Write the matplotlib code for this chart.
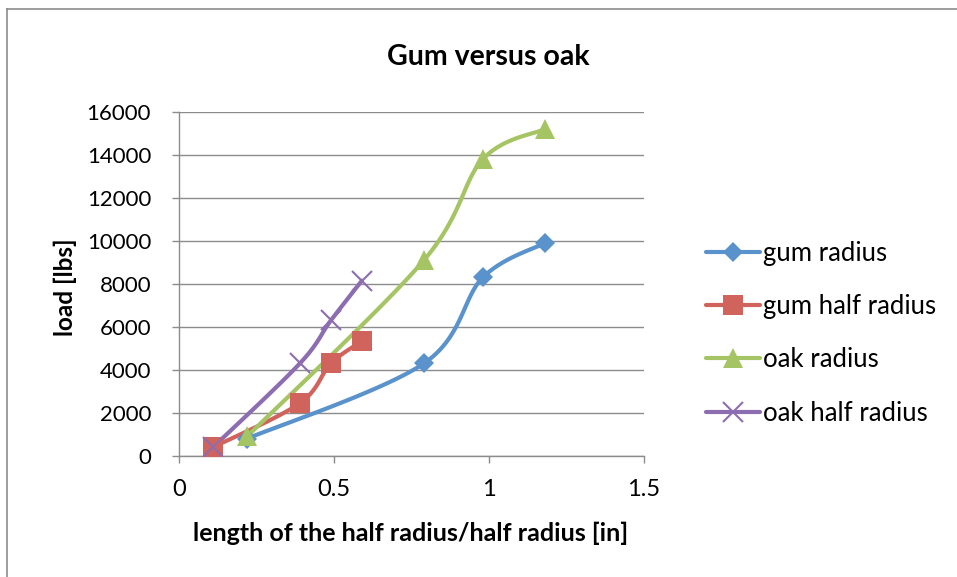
import matplotlib.pyplot as plt
import numpy as np

# --- data ---
gum_radius_x = [0.22, 0.79, 0.98, 1.18]
gum_radius_y = [800, 4300, 8300, 9900]

gum_half_x = [0.11, 0.39, 0.49, 0.59]
gum_half_y = [400, 2450, 4300, 5330]

oak_radius_x = [0.22, 0.79, 0.98, 1.18]
oak_radius_y = [900, 9100, 13800, 15200]

oak_half_x = [0.11, 0.39, 0.49, 0.59]
oak_half_y = [400, 4300, 6300, 8150]

labels = ['gum radius', 'gum half radius', 'oak radius', 'oak half radius']
colors = ['#5A93CC', '#D0635C', '#A5C565', '#8C6DB0']
markers = ['D', 's', '^', 'x']
msizes = [10.5, 14, 15, 14]

plt.rcParams['font.family'] = ['Lato', 'DejaVu Sans']


def smooth(x, y, n=40):
    # Catmull-Rom style smoothing like Excel's "smoothed line"
    x = np.asarray(x, float)
    y = np.asarray(y, float)
    p = np.column_stack([x, y])
    out = [p[0]]
    for i in range(len(p) - 1):
        p0 = p[i - 1] if i > 0 else p[i]
        p1 = p[i]
        p2 = p[i + 1]
        p3 = p[i + 2] if i + 2 < len(p) else p[i + 1]
        c1 = p1 + (p2 - p0) / 6
        c2 = p2 - (p3 - p1) / 6
        t = np.linspace(0, 1, n)[1:, None]
        seg = ((1 - t) ** 3) * p1 + 3 * ((1 - t) ** 2) * t * c1 + 3 * (1 - t) * t ** 2 * c2 + t ** 3 * p2
        out.extend(seg)
    out = np.array(out)
    return out[:, 0], out[:, 1]


fig = plt.figure(figsize=(9.57, 5.77), dpi=100)
ax = fig.add_axes([0.187, 0.21, 0.486, 0.596])

series = [(gum_radius_x, gum_radius_y), (gum_half_x, gum_half_y),
          (oak_radius_x, oak_radius_y), (oak_half_x, oak_half_y)]

handles = []
for (xs, ys), lab, c, m, ms in zip(series, labels, colors, markers, msizes):
    sx, sy = smooth(xs, ys)
    ax.plot(sx, sy, color=c, lw=3, solid_capstyle='round', zorder=3)
    mew = 1.5 if m == 'x' else 0
    ax.plot(xs, ys, linestyle='none', marker=m, ms=ms, color=c, mec=c, mew=mew, zorder=4)
    h, = ax.plot([], [], color=c, lw=3, marker=m, ms=ms, mec=c, mew=mew, solid_capstyle='round')
    handles.append(h)

ax.set_xlim(0, 1.5)
ax.set_ylim(0, 16000)
ax.set_xticks([0, 0.5, 1, 1.5])
ax.set_xticklabels(['0', '0.5', '1', '1.5'])
ax.set_yticks(np.arange(0, 16001, 2000))

ax.grid(axis='y', color='#8C8C8C', lw=1)
ax.set_axisbelow(True)
for s in ['top', 'right']:
    ax.spines[s].set_visible(False)
for s in ['left', 'bottom']:
    ax.spines[s].set_color('#8C8C8C')
    ax.spines[s].set_linewidth(1)
ax.tick_params(axis='both', colors='#8C8C8C', length=5, width=1, labelcolor='black')
ax.tick_params(axis='x', pad=12, labelsize=17)
ax.tick_params(axis='y', pad=15, labelsize=16)

fig.text(0.51, 1 - 57 / 577, 'Gum versus oak', fontsize=20.5, fontweight='bold', ha='center', va='center')
fig.text(410.5 / 957, 1 - 533 / 577, 'length of the half radius/half radius [in]',
         fontsize=18, fontweight='bold', ha='center', va='center')
fig.text(65 / 957, 1 - 287 / 577, 'load [lbs]', fontsize=17.5, fontweight='bold',
         rotation=90, ha='center', va='center')

ax.legend(handles, labels, loc='upper left', bbox_to_anchor=(1.112, 0.655), frameon=False,
          fontsize=18.5, handlelength=2.1, handletextpad=0.1, labelspacing=1.1, borderaxespad=0)

# chart border (left and top edges visible)
fig.add_artist(plt.Line2D([0.0075, 0.0075], [0, 0.985], transform=fig.transFigure, color='#8C8C8C', lw=1.2))
fig.add_artist(plt.Line2D([0.0075, 1], [0.985, 0.985], transform=fig.transFigure, color='#8C8C8C', lw=1.2))

plt.savefig('out.png', dpi=100)
